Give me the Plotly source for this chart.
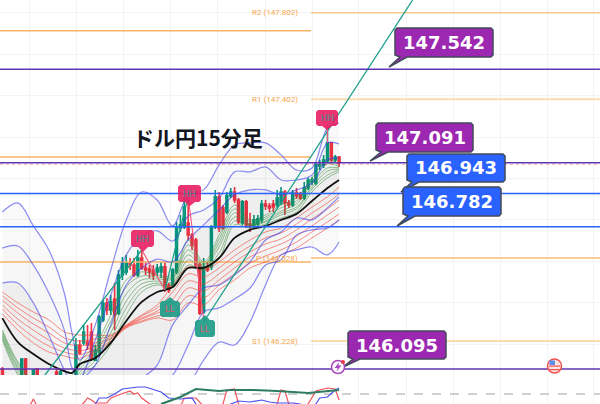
import plotly.graph_objects as go

# ---------- data (USD/JPY 15 min, prices) ----------
bar_i = [0,5,6,8,9,14,15,19,20,21,22,23,24,25,26,27,28,29,30,31,32,33,34,35,36,37,38,39,40,41,42,43,44,45,46,47,48,49,50,51,52,53,54,55,56,57,58,59,60,61,62,63,64,65,66,67,68,69,70,71,72,73,74,75,76,77,78,79,80,81,82,83,84,85,86,87]
bar_o = [146.095,146.052,146.143,146.052,146.095,146.080,146.052,146.052,146.211,146.221,146.225,146.274,146.138,146.177,146.332,146.414,146.380,146.433,146.365,146.549,146.564,146.607,146.597,146.549,146.631,146.583,146.578,146.573,146.564,146.564,146.588,146.501,146.501,146.564,146.776,146.781,146.800,146.742,146.718,146.597,146.370,146.588,146.588,146.781,146.926,146.873,146.853,146.931,146.950,146.911,146.800,146.902,146.795,146.791,146.795,146.815,146.892,146.882,146.892,146.887,146.897,146.950,146.897,146.887,146.945,146.936,146.921,146.969,146.998,146.993,147.076,147.081,147.100,147.187,147.105,147.119]
bar_h = [146.105,146.148,146.148,146.095,146.100,146.095,146.090,146.245,146.235,146.308,146.308,146.317,146.211,146.356,146.428,146.438,146.452,146.510,146.573,146.636,146.646,146.631,146.631,146.670,146.670,146.612,146.597,146.597,146.602,146.612,146.612,146.510,146.583,146.805,146.839,146.926,146.911,146.752,146.728,146.607,146.631,146.612,146.791,146.960,146.950,146.887,146.950,146.969,146.974,146.921,146.911,146.911,146.849,146.839,146.839,146.911,146.911,146.897,146.911,146.960,146.974,146.960,146.911,146.960,146.969,146.950,146.998,147.018,147.022,147.090,147.105,147.129,147.274,147.191,147.129,147.124]
bar_l = [146.052,146.052,146.052,146.052,146.052,146.052,146.052,146.052,146.163,146.211,146.187,146.138,146.134,146.167,146.322,146.356,146.356,146.283,146.356,146.525,146.549,146.573,146.539,146.539,146.573,146.549,146.534,146.525,146.544,146.534,146.467,146.462,146.491,146.554,146.757,146.771,146.718,146.670,146.583,146.356,146.360,146.564,146.573,146.771,146.757,146.767,146.844,146.921,146.897,146.795,146.791,146.776,146.757,146.776,146.781,146.800,146.863,146.853,146.853,146.873,146.887,146.839,146.873,146.877,146.916,146.911,146.911,146.960,146.984,146.984,147.056,147.066,147.090,147.095,147.095,147.071]
bar_c = [146.052,146.143,146.052,146.090,146.052,146.052,146.080,146.211,146.172,146.274,146.211,146.148,146.187,146.346,146.414,146.380,146.419,146.356,146.549,146.607,146.607,146.597,146.549,146.631,146.583,146.573,146.564,146.549,146.583,146.588,146.486,146.477,146.573,146.776,146.791,146.877,146.742,146.694,146.597,146.365,146.588,146.573,146.781,146.926,146.776,146.776,146.931,146.950,146.911,146.805,146.902,146.791,146.786,146.815,146.820,146.892,146.882,146.873,146.877,146.921,146.950,146.897,146.887,146.945,146.931,146.921,146.969,147.008,147.008,147.081,147.081,147.105,147.187,147.105,147.119,147.090]

grid_i = [0,4,8,12,16,18,20,24,28,32,36,40,44,48,52,56,60,64,68,72,76,80,84,87]
ma_black = [146.341,146.225,146.167,146.119,146.085,146.076,146.119,146.148,146.221,146.327,146.419,146.467,146.491,146.583,146.583,146.631,146.728,146.767,146.786,146.815,146.844,146.906,146.969,147.008]
bb_u3 = [146.853,146.897,146.786,146.670,146.462,146.269,146.138,146.308,146.573,146.815,146.950,146.911,146.786,146.936,146.960,147.081,147.177,147.187,147.187,147.129,147.056,147.066,147.259,147.283]
bb_u2 = [146.679,146.689,146.597,146.462,146.283,146.100,146.052,146.235,146.452,146.646,146.737,146.762,146.713,146.834,146.863,146.921,147.047,147.047,147.071,147.008,147.008,147.032,147.187,147.182]
bb_u1 = [146.510,146.510,146.414,146.259,146.090,146.032,146.042,146.114,146.308,146.501,146.583,146.626,146.612,146.718,146.791,146.863,146.936,146.960,146.960,146.936,146.960,146.993,147.105,147.114]
bb_l1 = [145.945,145.945,145.945,145.945,145.945,145.945,145.945,145.945,145.969,146.018,146.052,146.114,146.308,146.404,146.486,146.501,146.549,146.612,146.718,146.757,146.824,146.815,146.873,146.926]
bb_l2 = [145.897,145.897,145.897,145.897,145.897,145.897,145.897,145.897,145.921,145.945,145.969,146.018,146.066,146.211,146.370,146.390,146.433,146.486,146.597,146.622,146.742,146.767,146.776,146.815]
bb_l3 = [145.849,145.849,145.849,145.849,145.849,145.849,145.849,145.849,145.873,145.897,145.921,145.945,145.969,146.018,146.138,146.225,146.211,146.322,146.501,146.646,146.670,146.684,146.646,146.708]
red_1 = [146.467,146.414,146.370,146.332,146.274,146.264,146.259,146.259,146.259,146.308,146.356,146.404,146.501,146.588,146.573,146.612,146.670,146.718,146.757,146.776,146.824,146.877,146.926,146.974]
red_2 = [146.448,146.390,146.341,146.298,146.245,146.235,146.230,146.240,146.254,146.303,146.351,146.390,146.467,146.554,146.539,146.583,146.641,146.689,146.728,146.752,146.795,146.849,146.897,146.940]
red_3 = [146.428,146.365,146.312,146.269,146.221,146.211,146.206,146.221,146.245,146.303,146.341,146.375,146.433,146.520,146.506,146.554,146.612,146.660,146.699,146.723,146.767,146.820,146.868,146.911]
red_4 = [146.404,146.336,146.283,146.235,146.196,146.187,146.182,146.206,146.240,146.298,146.336,146.365,146.399,146.486,146.472,146.525,146.583,146.636,146.670,146.699,146.737,146.786,146.839,146.877]
red_5 = [146.385,146.308,146.250,146.206,146.177,146.167,146.163,146.192,146.230,146.298,146.327,146.351,146.365,146.448,146.438,146.501,146.554,146.607,146.641,146.670,146.708,146.757,146.805,146.844]
red_6 = [146.361,146.283,146.221,146.177,146.158,146.148,146.148,146.177,146.225,146.293,146.322,146.341,146.332,146.414,146.404,146.477,146.525,146.583,146.612,146.646,146.679,146.728,146.776,146.815]
green_1 = [146.283,146.129,146.042,146.018,146.042,146.066,146.129,146.211,146.356,146.525,146.564,146.549,146.549,146.718,146.612,146.742,146.887,146.815,146.839,146.887,146.921,147.018,147.105,147.081]
green_2 = [146.274,146.119,146.027,146.003,146.027,146.052,146.110,146.192,146.327,146.491,146.544,146.539,146.539,146.694,146.602,146.723,146.868,146.805,146.829,146.873,146.906,147.003,147.086,147.071]
green_3 = [146.264,146.105,146.013,145.989,146.013,146.032,146.095,146.172,146.298,146.457,146.525,146.530,146.530,146.670,146.597,146.704,146.849,146.795,146.820,146.858,146.892,146.989,147.066,147.066]
green_4 = [146.254,146.095,145.998,145.974,145.998,146.013,146.080,146.153,146.269,146.423,146.506,146.520,146.515,146.646,146.588,146.684,146.829,146.791,146.810,146.849,146.877,146.974,147.051,147.061]
green_5 = [146.245,146.080,145.984,145.960,145.984,145.989,146.066,146.134,146.240,146.390,146.486,146.510,146.501,146.622,146.583,146.655,146.810,146.786,146.805,146.839,146.868,146.964,147.032,147.056]
green_6 = [146.235,146.066,145.969,145.945,145.969,145.969,146.052,146.114,146.211,146.356,146.467,146.501,146.486,146.597,146.573,146.631,146.791,146.776,146.795,146.824,146.853,146.950,147.018,147.047]

trend_up = [([11,36],[146.066,146.670]),([42,48],[146.477,146.926]),([52,106],[146.322,147.877])]
trend_dn = [([36,42],[146.670,146.477]),([48,52],[146.926,146.337]),([84,84],[147.274,147.187])]

level_purple = [147.542,147.091,146.095]
level_blue = [146.943,146.782]
pivot_right = [("R2 (147.802)",147.815,1.5,"#f8c88c"),("R1 (147.402)",147.398,2,"#fbdcb0"),("P (146.528)",146.631,1.5,"#f9bd78"),("S1 (146.228)",146.230,2,"#fbdcb0")]
pivot_left = [147.728,147.119,146.612]

rsi_i = [7,8,9,20,21,22,23,24,27,28,30,33,34,35,36,38,39,46,47,50,51,52,56,57,58,60,61,62,70,71,72,73,74,78,79,81,84,86,87]
rsi_v = [25,40,25,25,32,42,38,32,32,42,48,56,50,52,42,30,25,25,42,42,32,25,25,30,58,60,30,25,25,30,58,56,30,25,30,56,62,60,38]
sto_i = [24,25,27,29,31,35,37,41,43,46,49,50,51,58,59,61,64,67,69,71,75,77,78,80,81,82,84,86,87]
sto_v = [30,42,42,50,60,64,64,54,42,40,42,30,25,25,30,36,34,38,34,32,32,30,25,25,30,42,44,58,62]
avg_i = [41,46,50,56,59,65,71,79,87]
avg_v = [30,44,60,56,58,58,56,52,58]

title_text = "ドル円15分足"
callouts = [("147.542",395,28,493,57,389,67,"#9c27b0"),
            ("147.091",376,123,473,152,370,161,"#9c27b0"),
            ("146.943",407,154,505,182,401,192,"#2962ff"),
            ("146.782",403,187,501,216,397,226,"#2962ff"),
            ("146.095",348,331,446,359,343,367,"#9c27b0")]
pivot_marks = [("HH",131,230,154,247,143,252,"#e91e63","#3f8f8c"),
               ("HH",178,185,201,202,190,206,"#e91e63","#3f8f8c"),
               ("HH",316,110,338,126,327,130,"#e91e63","#3f8f8c"),
               ("LL",160,301,180,317,170,297,"#1a9a85","#e0556b"),
               ("LL",195,320,215,337,205,315,"#1a9a85","#e0556b")]

# ---------- pixel helpers for furniture ----------
W, H = 600, 404
PX0, PXS = 2.4, 3.87
def fx(x): return x / W
def fy(y): return 1 - y / H
def pth(points):
    return "M" + " L".join(f"{fx(x):.5f},{fy(y):.5f}" for x, y in points) + " Z"
def callout_path(x0,y0,x1,y1,tx,ty):
    r = 2
    pts = [(x0+r,y0),(x1-r,y0),(x1,y0+r),(x1,y1-r),(x1-r,y1)]
    pts += [(x0+12,y1),(tx,ty),(x0+5,y1)]
    pts += [(x0,y1-r),(x0,y0+r)]
    return pth(pts)
def mark_path(x0,y0,x1,y1,tx,ty):
    r = 2
    if ty > y1:
        pts = [(x0+r,y0),(x1-r,y0),(x1,y0+r),(x1,y1-r),(x1-r,y1),(tx+5,y1),(tx,ty),(tx-5,y1),(x0+r,y1),(x0,y1-r),(x0,y0+r)]
    else:
        pts = [(x0+r,y0),(tx-5,y0),(tx,ty),(tx+5,y0),(x1-r,y0),(x1,y0+r),(x1,y1-r),(x1-r,y1),(x0+r,y1),(x0,y1-r),(x0,y0+r)]
    return pth(pts)

XMIN, XMAX = (0-PX0)/PXS, (W-PX0)/PXS
split = (404-375)/404
fig = go.Figure()

def band(up, lo, color):
    fig.add_trace(go.Scatter(x=grid_i, y=up, mode="lines", line=dict(width=0, shape="spline"), hoverinfo="skip"))
    fig.add_trace(go.Scatter(x=grid_i, y=lo, mode="lines", line=dict(width=0, shape="spline"), fill="tonexty", fillcolor=color, hoverinfo="skip"))

band(bb_u3, bb_l3, "rgba(0,0,0,0.025)")
band(bb_u2, bb_l2, "rgba(0,0,0,0.012)")
band(bb_u1, bb_l1, "rgba(0,0,0,0.03)")

def hline(level, x0, x1, color, width, dash="solid"):
    fig.add_trace(go.Scatter(x=[x0,x1], y=[level,level], mode="lines", line=dict(color=color,width=width,dash=dash), hoverinfo="skip"))

SPLIT_X = (311-PX0)/PXS
for lv in pivot_left:
    hline(lv, XMIN, SPLIT_X, "#f7b468", 1.5)
for name, lv, w, col in pivot_right:
    hline(lv, SPLIT_X, XMAX, col, w)

for s in [red_1,red_2,red_3,red_4,red_5,red_6]:
    fig.add_trace(go.Scatter(x=grid_i,y=s,mode="lines",line=dict(color="rgba(244,67,54,0.6)",width=1,shape="spline"),hoverinfo="skip"))
for s in [green_1,green_2,green_3,green_4,green_5,green_6]:
    fig.add_trace(go.Scatter(x=grid_i,y=s,mode="lines",line=dict(color="rgba(56,142,60,0.55)",width=1,shape="spline"),hoverinfo="skip"))
for s in [bb_u3,bb_u2,bb_u1,bb_l1,bb_l2,bb_l3]:
    fig.add_trace(go.Scatter(x=grid_i,y=s,mode="lines",line=dict(color="rgba(63,63,235,0.6)",width=1.2,shape="spline"),hoverinfo="skip"))

fig.add_trace(go.Candlestick(x=bar_i,open=bar_o,high=bar_h,low=bar_l,close=bar_c,
    increasing=dict(line=dict(color="#089981",width=1.6),fillcolor="#089981"),
    decreasing=dict(line=dict(color="#f23645",width=1.6),fillcolor="#f23645"),
    whiskerwidth=0,hoverinfo="skip"))
fig.add_trace(go.Scatter(x=grid_i,y=ma_black,mode="lines",line=dict(color="#111111",width=1.8,shape="spline"),hoverinfo="skip"))

for xs,ys in trend_up:
    fig.add_trace(go.Scatter(x=xs,y=ys,mode="lines",line=dict(color="#1b9e8a",width=1.3),hoverinfo="skip"))
for xs,ys in trend_dn:
    fig.add_trace(go.Scatter(x=xs,y=ys,mode="lines",line=dict(color="#f0567e",width=1.1),hoverinfo="skip"))

for lv in level_purple:
    hline(lv, XMIN, XMAX, "#5e35b1", 1.5)
for lv in level_blue:
    hline(lv, XMIN, XMAX, "#2962ff", 1.5)
hline(level_purple[1]-0.008, XMIN, XMAX, "rgba(242,54,69,0.35)", 1, "dot")

# oscillator pane
fig.add_trace(go.Scatter(x=[XMIN,XMAX],y=[50,50],xaxis="x2",yaxis="y2",mode="lines",line=dict(color="#a0a0a0",width=1,dash="dash"),hoverinfo="skip"))
fig.add_trace(go.Scatter(x=rsi_i,y=rsi_v,xaxis="x2",yaxis="y2",mode="lines",line=dict(color="#f5525c",width=1.2),hoverinfo="skip"))
fig.add_trace(go.Scatter(x=sto_i,y=sto_v,xaxis="x2",yaxis="y2",mode="lines",line=dict(color="#4a52f0",width=1.2),hoverinfo="skip"))
fig.add_trace(go.Scatter(x=avg_i,y=avg_v,xaxis="x2",yaxis="y2",mode="lines",line=dict(color="#2e7d62",width=2.2),hoverinfo="skip"))

shapes, ann = [], []
def label(text, x, y, size, color, family, anchor="center"):
    ann.append(dict(text=text,x=fx(x),y=fy(y),xref="paper",yref="paper",xanchor=anchor,yanchor="middle",showarrow=False,font=dict(size=size,color=color,family=family)))

for t,x0,y0,x1,y1,tx,ty,col,tc in pivot_marks:
    shapes.append(dict(type="path",path=mark_path(x0,y0,x1,y1,tx,ty),xref="paper",yref="paper",fillcolor=col,opacity=0.9,line=dict(width=0),layer="above"))
    label(t,(x0+x1)/2,(y0+y1)/2,9,tc,"Roboto")
for t,x0,y0,x1,y1,tx,ty,col in callouts:
    shapes.append(dict(type="path",path=callout_path(x0,y0,x1,y1,tx,ty),xref="paper",yref="paper",fillcolor=col,line=dict(color="#434a59",width=1.5),layer="above"))
    label(f"<b>{t}</b>",(x0+x1)/2,(y0+y1)/2,18,"white","DejaVu Sans")

# event icons
shapes.append(dict(type="circle",xref="paper",yref="paper",x0=fx(331.5),x1=fx(344.5),y0=fy(373.5),y1=fy(360.5),fillcolor="white",line=dict(color="#ab47bc",width=1.5),layer="above"))
shapes.append(dict(type="path",xref="paper",yref="paper",path=pth([(339,362.5),(334.5,368),(337.5,368),(336.5,371.5),(341.5,365.5),(338.5,365.5)]),fillcolor="#ab47bc",line=dict(width=0),layer="above"))
shapes.append(dict(type="circle",xref="paper",yref="paper",x0=fx(341),x1=fx(345),y0=fy(364),y1=fy(360),fillcolor="#f23645",line=dict(width=0),layer="above"))
shapes.append(dict(type="circle",xref="paper",yref="paper",x0=fx(547.5),x1=fx(561.5),y0=fy(373),y1=fy(359),fillcolor="#fbe3e3",line=dict(color="#ef5350",width=1.5),layer="above"))
for yy in (365.5,369):
    shapes.append(dict(type="rect",xref="paper",yref="paper",x0=fx(549),x1=fx(560),y0=fy(yy+1.2),y1=fy(yy),fillcolor="#ef5350",line=dict(width=0),layer="above"))
shapes.append(dict(type="rect",xref="paper",yref="paper",x0=fx(549.5),x1=fx(555),y0=fy(365),y1=fy(360.5),fillcolor="#5b8def",line=dict(width=0),layer="above"))

for name, lv, w, col in pivot_right:
    ann.append(dict(text=name,x=fx(300),y=lv,xref="paper",yref="y",xanchor="right",yanchor="middle",showarrow=False,font=dict(size=8,color="#f5a54a",family="Roboto")))
label(f"<b>{title_text}</b>",197.5,137,21,"#131722","Noto Sans CJK JP")

vgrid = [(x-PX0)/PXS for x in (29,76,123,170,217,265,312,358,406,453,500,547,593)]
hgrid = [147.815,147.615,147.415,147.215,147.015,146.815,146.615,146.415,146.215]
fig.update_layout(
    width=W,height=H,margin=dict(l=0,r=0,t=0,b=0),paper_bgcolor="white",plot_bgcolor="white",showlegend=False,hovermode=False,
    xaxis=dict(domain=[0,1],range=[XMIN,XMAX],tickvals=vgrid,showticklabels=False,ticks="",gridcolor="#f3f3f3",zeroline=False,rangeslider=dict(visible=False),anchor="y"),
    xaxis2=dict(domain=[0,1],range=[XMIN,XMAX],tickvals=vgrid,showticklabels=False,ticks="",gridcolor="#f3f3f3",zeroline=False,anchor="y2"),
    yaxis=dict(domain=[split,1],range=[146.066,147.877],tickvals=hgrid,showticklabels=False,ticks="",gridcolor="#f3f3f3",zeroline=False),
    yaxis2=dict(domain=[0,split],range=[30,88],showticklabels=False,ticks="",showgrid=False,zeroline=False),
    shapes=shapes,annotations=ann)
fig.write_html("out.html",config={"displayModeBar":False},post_script="document.body.style.margin='0';")
